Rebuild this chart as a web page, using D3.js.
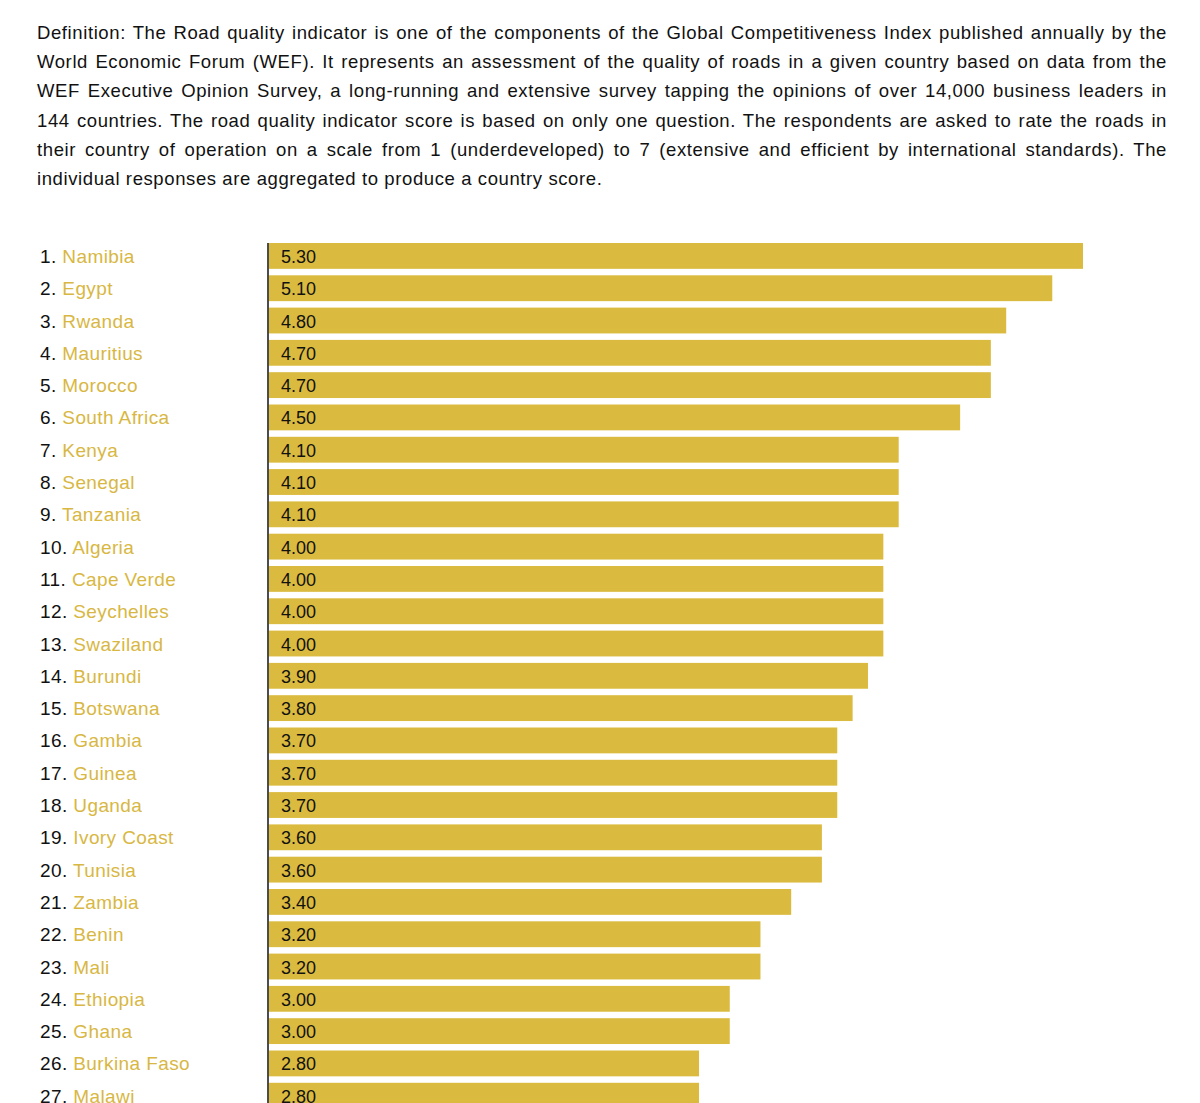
<!DOCTYPE html>
<html>
<head>
<meta charset="utf-8">
<script src="https://cdn.jsdelivr.net/npm/d3@7"></script>
<style>
  body { margin: 0; background: #fff; font-family: "Liberation Sans", Arial, Helvetica, sans-serif; }
  #intro { position: absolute; left: 37px; top: 18px; width: 1130px; font-size: 18.5px; letter-spacing: 0.6px; line-height: 29.2px; color: #111; }
  #intro div { text-align: justify; text-align-last: justify; }
  #intro div.last { text-align-last: left; }
  svg { position: absolute; left: 0; top: 0; }
</style>
</head>
<body>
<div id="intro"></div>
<svg id="chart" width="1200" height="1103"></svg>
<script>
const introLines = [
  "Definition: The Road quality indicator is one of the components of the Global Competitiveness Index published annually by the",
  "World Economic Forum (WEF). It represents an assessment of the quality of roads in a given country based on data from the",
  "WEF Executive Opinion Survey, a long-running and extensive survey tapping the opinions of over 14,000 business leaders in",
  "144 countries. The road quality indicator score is based on only one question. The respondents are asked to rate the roads in",
  "their country of operation on a scale from 1 (underdeveloped) to 7 (extensive and efficient by international standards). The",
  "individual responses are aggregated to produce a country score."
];

const countries = ["Namibia","Egypt","Rwanda","Mauritius","Morocco","South Africa","Kenya","Senegal","Tanzania","Algeria","Cape Verde","Seychelles","Swaziland","Burundi","Botswana","Gambia","Guinea","Uganda","Ivory Coast","Tunisia","Zambia","Benin","Mali","Ethiopia","Ghana","Burkina Faso","Malawi"];
const scores = [5.30,5.10,4.80,4.70,4.70,4.50,4.10,4.10,4.10,4.00,4.00,4.00,4.00,3.90,3.80,3.70,3.70,3.70,3.60,3.60,3.40,3.20,3.20,3.00,3.00,2.80,2.80];

d3.select("#intro").selectAll("div")
  .data(introLines)
  .join("div")
  .classed("last", (d, i) => i === introLines.length - 1)
  .text(d => d);

const svg = d3.select("#chart");
const barColor = "#dbbb3f";
const labelColor = "#d8b743";

const x = d3.scaleLinear().domain([0, 5.3]).range([269, 1083]);
const pitch = 32.3;
const y = d3.scaleBand()
  .domain(countries)
  .range([243, 243 + pitch * countries.length])
  .paddingInner(0.2).paddingOuter(0.1).align(0);

// bars
svg.append("g").selectAll("rect")
  .data(countries)
  .join("rect")
  .attr("x", x(0))
  .attr("y", d => y(d))
  .attr("width", (d, i) => x(scores[i]) - x(0))
  .attr("height", y.bandwidth())
  .attr("fill", barColor);

// value labels
svg.append("g").selectAll("text")
  .data(countries)
  .join("text")
  .attr("x", x(0) + 12)
  .attr("y", d => y(d) + y.bandwidth() / 2 + 7)
  .attr("font-size", 18)
  .attr("fill", "#111")
  .text((d, i) => scores[i].toFixed(2));

// country labels
const lab = svg.append("g").selectAll("text")
  .data(countries)
  .join("text")
  .attr("x", 40)
  .attr("y", d => y(d) + y.bandwidth() / 2 + 7)
  .attr("font-size", 19)
  .attr("letter-spacing", 0.4);
lab.append("tspan").attr("fill", "#111").text((d, i) => (i + 1) + ". ");
lab.append("tspan").attr("fill", labelColor).text(d => d);

// axis line
svg.append("line")
  .attr("x1", 268).attr("x2", 268)
  .attr("y1", 243).attr("y2", 1103)
  .attr("stroke", "#111").attr("stroke-width", 1.5);
</script>
</body>
</html>
